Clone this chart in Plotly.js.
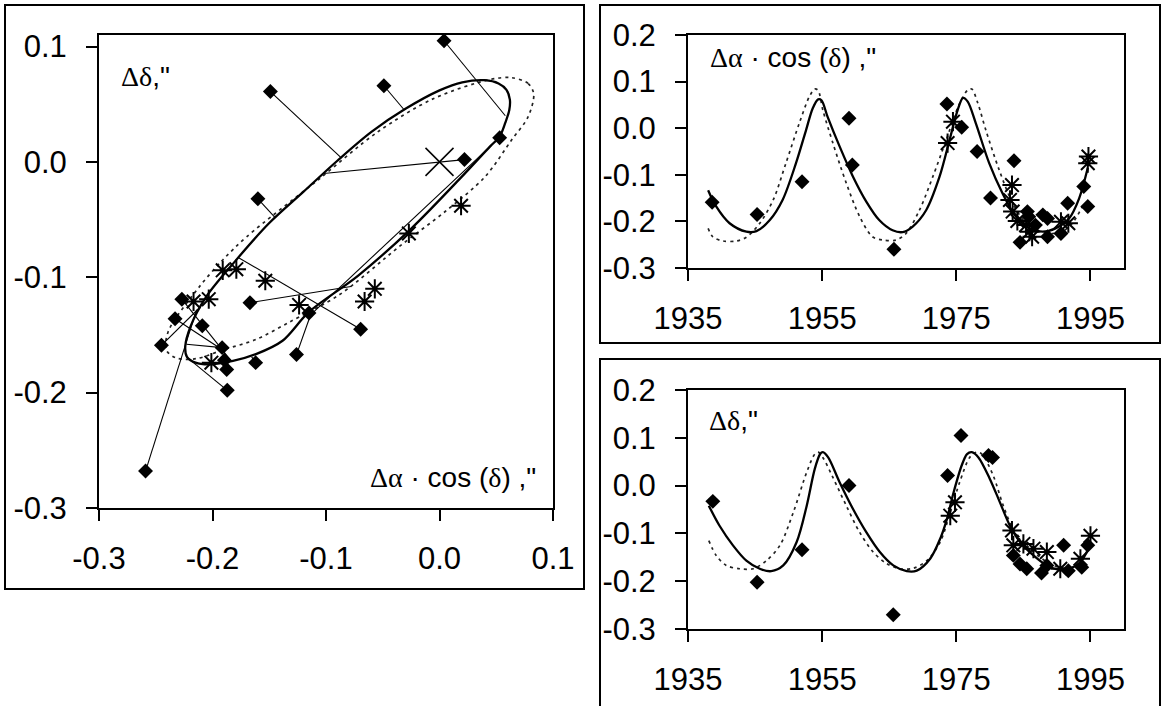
<!DOCTYPE html>
<html>
<head>
<meta charset="utf-8">
<script src="https://cdn.plot.ly/plotly-3.0.1.min.js"></script>
<style>html,body{margin:0;padding:0;background:#fff;}#chart{width:1165px;height:706px;}</style>
</head>
<body>
<div id="chart"></div>
<script>
// ---------- Left panel: apparent orbit (Δα·cos δ vs Δδ) ----------
const orbitSolidX = [0.062, 0.059, 0.052, 0.040, 0.020, 0.000, -0.030, -0.060, -0.090, -0.120, -0.150, -0.180, -0.2056, -0.2195, -0.2240, -0.2225, -0.215, -0.2027, -0.182, -0.1617, -0.1383, -0.115, -0.0716, -0.0251, 0.018, 0.0446, 0.053, 0.058, 0.0615, 0.062];
const orbitSolidY = [0.054, 0.0625, 0.068, 0.0708, 0.069, 0.062, 0.046, 0.026, 0.001, -0.026, -0.053, -0.086, -0.117, -0.143, -0.160, -0.169, -0.174, -0.1755, -0.1725, -0.1666, -0.155, -0.130, -0.0985, -0.058, -0.0145, 0.0135, 0.022, 0.034, 0.045, 0.054];
const orbitDotX = [0.083, 0.078, 0.0635, 0.045, -0.005, -0.055, -0.105, -0.170, -0.191, -0.2114, -0.239, -0.2407, -0.232, -0.214, -0.191, -0.162, -0.1325, -0.088, -0.035, 0.005, 0.040, 0.0635, 0.078, 0.083];
const orbitDotY = [0.059, 0.068, 0.073, 0.0715, 0.055, 0.0256, -0.014, -0.065, -0.085, -0.108, -0.147, -0.163, -0.170, -0.1705, -0.163, -0.154, -0.139, -0.115, -0.073, -0.043, -0.013, 0.019, 0.039, 0.059];

const obsDiamondX = [0.004, -0.049, -0.149, 0.053, 0.022, -0.160, -0.167, -0.227, -0.233, -0.209, -0.245, -0.1915, -0.1895, -0.1875, -0.162, -0.187, -0.126, -0.115, -0.0695, -0.259];
const obsDiamondY = [0.105, 0.066, 0.061, 0.021, 0.002, -0.032, -0.122, -0.119, -0.136, -0.142, -0.159, -0.161, -0.172, -0.180, -0.174, -0.198, -0.167, -0.131, -0.145, -0.268];
// computed (ephemeris) positions joined to each observation; null = no visible link
const fitX = [0.058, -0.031, -0.087, -0.112, -0.102, -0.145, -0.078, -0.184, -0.191, null, -0.211, -0.223, null, null, -0.1655, -0.223, -0.113, null, -0.177, -0.214];
const fitY = [0.040, 0.045, 0.004, -0.131, -0.010, -0.048, -0.108, -0.172, -0.163, null, -0.126, -0.158, null, null, -0.169, -0.169, -0.131, null, -0.083, -0.128];

const obsStarX = [0.019, -0.027, -0.191, -0.179, -0.1535, -0.057, -0.066, -0.1237, -0.2033, -0.2167, -0.201];
const obsStarY = [-0.038, -0.062, -0.094, -0.093, -0.103, -0.110, -0.121, -0.124, -0.119, -0.121, -0.174];
const primaryX = [0.0];
const primaryY = [0.0];

// ---------- Top-right: Δα·cos δ vs year ----------
const raSolidT = [1938.0, 1939.2, 1941.2, 1943.7, 1945.2, 1947.2, 1949.1, 1951.1, 1952.6, 1953.6, 1954.4, 1954.9, 1955.8, 1957.6, 1959.6, 1961.6, 1963.5, 1965.5, 1967.0, 1968.5, 1970.5, 1972.5, 1974.0, 1975.2, 1976.0, 1976.7, 1977.9, 1979.9, 1981.9, 1983.9, 1985.9, 1987.9, 1989.8, 1991.8, 1993.3, 1994.6];
const raSolidV = [-0.133, -0.168, -0.204, -0.222, -0.221, -0.197, -0.154, -0.075, -0.004, 0.043, 0.062, 0.060, 0.025, -0.039, -0.104, -0.158, -0.197, -0.219, -0.223, -0.211, -0.176, -0.104, -0.025, 0.039, 0.065, 0.057, 0.011, -0.075, -0.140, -0.190, -0.215, -0.222, -0.215, -0.194, -0.151, -0.085];
const raDotT = [1938.0, 1938.7, 1940.2, 1942.2, 1943.7, 1945.7, 1947.7, 1949.6, 1951.6, 1953.1, 1953.9, 1954.4, 1955.1, 1956.6, 1958.6, 1960.6, 1962.5, 1964.0, 1966.0, 1967.5, 1969.5, 1971.5, 1973.5, 1975.4, 1976.7, 1977.3, 1978.2, 1979.4, 1981.4, 1983.4, 1985.4, 1987.4, 1989.3, 1990.8, 1992.3, 1993.8];
const raDotV = [-0.215, -0.233, -0.242, -0.242, -0.234, -0.204, -0.154, -0.075, 0.011, 0.068, 0.084, 0.081, 0.039, -0.032, -0.118, -0.190, -0.233, -0.240, -0.240, -0.226, -0.176, -0.104, -0.025, 0.050, 0.082, 0.084, 0.054, -0.004, -0.090, -0.161, -0.204, -0.222, -0.226, -0.222, -0.204, -0.168];
const raDiamondT = [1938.6, 1945.3, 1952.0, 1959.0, 1959.5, 1965.7, 1973.6, 1975.8, 1978.1, 1980.1, 1983.6, 1984.5, 1985.6, 1985.8, 1986.8, 1987.9, 1988.6, 1988.6, 1990.6, 1991.6, 1994.0, 1994.6];
const raDiamondV = [-0.159, -0.185, -0.115, 0.0215, -0.079, -0.260, 0.052, 0.002, -0.050, -0.150, -0.070, -0.245, -0.179, -0.190, -0.208, -0.186, -0.194, -0.233, -0.226, -0.161, -0.125, -0.168];
const raStarT = [1973.7, 1974.5, 1983.3, 1983.0, 1983.4, 1984.1, 1985.4, 1985.9, 1986.3, 1990.6, 1991.7, 1994.7, 1994.6];
const raStarV = [-0.032, 0.014, -0.122, -0.154, -0.179, -0.199, -0.208, -0.222, -0.233, -0.201, -0.204, -0.061, -0.075];

// ---------- Bottom-right: Δδ vs year ----------
const decSolidT = [1938.1, 1939.7, 1941.7, 1943.7, 1945.7, 1947.4, 1949.2, 1951.2, 1952.7, 1953.9, 1954.7, 1955.1, 1955.9, 1957.6, 1959.6, 1961.6, 1963.6, 1965.6, 1967.6, 1969.1, 1971.1, 1972.6, 1973.6, 1974.6, 1975.8, 1976.6, 1977.3, 1978.3, 1980.0, 1981.5, 1983.0, 1984.5, 1986.5, 1988.5, 1990.5, 1992.0, 1993.5, 1994.7];
const decSolidV = [-0.042, -0.084, -0.125, -0.157, -0.174, -0.179, -0.167, -0.118, -0.042, 0.035, 0.066, 0.070, 0.059, 0.007, -0.049, -0.098, -0.139, -0.167, -0.179, -0.178, -0.153, -0.111, -0.070, -0.014, 0.042, 0.066, 0.070, 0.059, 0.014, -0.035, -0.084, -0.118, -0.146, -0.167, -0.176, -0.173, -0.160, -0.132];
const decDotT = [1938.1, 1939.2, 1940.7, 1942.7, 1944.7, 1946.7, 1948.7, 1950.7, 1952.7, 1953.9, 1954.4, 1955.1, 1956.6, 1958.6, 1960.6, 1962.6, 1964.6, 1966.6, 1968.6, 1970.6, 1972.6, 1974.1, 1975.5, 1977.0, 1978.0, 1978.8, 1980.5, 1982.0, 1983.5, 1985.5, 1987.5, 1989.5, 1991.5, 1993.0, 1994.2];
const decDotV = [-0.115, -0.146, -0.167, -0.174, -0.174, -0.157, -0.125, -0.056, 0.028, 0.066, 0.070, 0.059, 0.017, -0.042, -0.098, -0.139, -0.163, -0.174, -0.173, -0.157, -0.118, -0.056, 0.007, 0.059, 0.070, 0.066, 0.021, -0.042, -0.091, -0.125, -0.150, -0.167, -0.173, -0.167, -0.150];
const decDiamondT = [1938.7, 1945.3, 1952.0, 1959.0, 1965.6, 1973.7, 1975.7, 1979.8, 1980.4, 1983.5, 1984.5, 1985.5, 1987.7, 1988.5, 1991.0, 1991.7, 1993.7, 1994.6];
const decDiamondV = [-0.033, -0.202, -0.134, 0.0, -0.270, 0.021, 0.105, 0.063, 0.059, -0.146, -0.164, -0.174, -0.183, -0.167, -0.125, -0.178, -0.171, -0.125];
const decStarT = [1974.1, 1974.8, 1983.3, 1983.5, 1985.0, 1986.5, 1988.5, 1990.5, 1993.5, 1995.0];
const decStarV = [-0.063, -0.035, -0.094, -0.125, -0.122, -0.132, -0.139, -0.174, -0.153, -0.105];

// ---------- Tick labels ----------
const orbitTickVals = [-0.3, -0.2, -0.1, 0.0, 0.1];
const orbitTickText = ['-0.3', '-0.2', '-0.1', '0.0', '0.1'];
const yearTickVals = [1935, 1955, 1975, 1995];
const yearTickText = ['1935', '1955', '1975', '1995'];
const offsetTickVals = [-0.3, -0.2, -0.1, 0.0, 0.1, 0.2];
const offsetTickText = ['-0.3', '-0.2', '-0.1', '0.0', '0.1', '0.2'];

// ---------- Build traces ----------
const ocX = [], ocY = [];
for (let i = 0; i < obsDiamondX.length; i++) {
  if (fitX[i] === null) continue;
  ocX.push(obsDiamondX[i], fitX[i], null);
  ocY.push(obsDiamondY[i], fitY[i], null);
}

const solidLine = {color: '#000', width: 2.3, shape: 'spline', smoothing: 0.9};
const dotLine = {color: '#222', width: 1.7, dash: '3px,4px', shape: 'spline', smoothing: 0.9};
const diamond = {symbol: 'diamond', size: 11.5, color: '#000', line: {width: 0}};
const star = {symbol: 'asterisk-open', size: 16, color: '#000', line: {color: '#000', width: 2}};

const traces = [
  {x: orbitDotX, y: orbitDotY, mode: 'lines', line: dotLine, xaxis: 'x', yaxis: 'y'},
  {x: orbitSolidX, y: orbitSolidY, mode: 'lines', line: solidLine, xaxis: 'x', yaxis: 'y'},
  {x: ocX, y: ocY, mode: 'lines', line: {color: '#000', width: 1.1}, connectgaps: false, xaxis: 'x', yaxis: 'y'},
  {x: obsDiamondX, y: obsDiamondY, mode: 'markers', marker: diamond, xaxis: 'x', yaxis: 'y'},
  {x: obsStarX, y: obsStarY, mode: 'markers', marker: star, xaxis: 'x', yaxis: 'y'},
  {x: primaryX, y: primaryY, mode: 'markers', marker: {symbol: 'x-thin-open', size: 28, color: '#000', line: {color: '#000', width: 1.5}}, xaxis: 'x', yaxis: 'y'},

  {x: raDotT, y: raDotV, mode: 'lines', line: dotLine, xaxis: 'x2', yaxis: 'y2'},
  {x: raSolidT, y: raSolidV, mode: 'lines', line: solidLine, xaxis: 'x2', yaxis: 'y2'},
  {x: raDiamondT, y: raDiamondV, mode: 'markers', marker: diamond, xaxis: 'x2', yaxis: 'y2'},
  {x: raStarT, y: raStarV, mode: 'markers', marker: star, xaxis: 'x2', yaxis: 'y2'},

  {x: decDotT, y: decDotV, mode: 'lines', line: dotLine, xaxis: 'x3', yaxis: 'y3'},
  {x: decSolidT, y: decSolidV, mode: 'lines', line: solidLine, xaxis: 'x3', yaxis: 'y3'},
  {x: decDiamondT, y: decDiamondV, mode: 'markers', marker: diamond, xaxis: 'x3', yaxis: 'y3'},
  {x: decStarT, y: decStarV, mode: 'markers', marker: star, xaxis: 'x3', yaxis: 'y3'}
];

const tickFont = {family: 'Liberation Sans, Arial, sans-serif', size: 31, color: '#000'};
function axis(extra) {
  return Object.assign({
    showline: true, linecolor: '#000', linewidth: 2, mirror: true,
    ticks: 'outside', ticklen: 11, tickwidth: 2, tickcolor: '#000',
    showgrid: false, zeroline: false, tickfont: tickFont, fixedrange: true
  }, extra);
}

const serif = "font-family:'Liberation Serif','Times New Roman',serif";
const labelRA = '<span style="' + serif + '">Δα</span> · cos (<span style="' + serif + '">δ</span>) ,"';
const labelDec = '<span style="' + serif + '">Δδ</span>,"';
const annFont = {family: 'Liberation Sans, Arial, sans-serif', size: 28, color: '#000'};

const layout = {
  width: 1165, height: 706,
  margin: {l: 0, r: 0, t: 0, b: 0},
  paper_bgcolor: '#fff', plot_bgcolor: '#fff',
  showlegend: false,
  xaxis: axis({domain: [0.08498, 0.47468], range: [-0.3, 0.1], tickvals: orbitTickVals, ticktext: orbitTickText, ticklabelstandoff: 11, anchor: 'y'}),
  yaxis: axis({domain: [0.28045, 0.95042], range: [-0.3, 0.11], tickvals: orbitTickVals, ticktext: orbitTickText, ticklabelstandoff: 13, anchor: 'x'}),
  xaxis2: axis({domain: [0.59056, 0.96481], range: [1935, 2000], tickvals: yearTickVals, ticktext: yearTickText, ticklabelstandoff: 11, anchor: 'y2'}),
  yaxis2: axis({domain: [0.62040, 0.95042], range: [-0.3, 0.2], tickvals: offsetTickVals, ticktext: offsetTickText, ticklabelstandoff: 13, anchor: 'x2'}),
  xaxis3: axis({domain: [0.59056, 0.96481], range: [1935, 2000], tickvals: yearTickVals, ticktext: yearTickText, ticklabelstandoff: 11, anchor: 'y3'}),
  yaxis3: axis({domain: [0.10907, 0.44759], range: [-0.3, 0.2], tickvals: offsetTickVals, ticktext: offsetTickText, ticklabelstandoff: 13, anchor: 'x3'}),
  annotations: [
    {xref: 'x domain', yref: 'y domain', x: 0.045, y: 0.913, xanchor: 'left', yanchor: 'middle', text: labelDec, showarrow: false, font: annFont},
    {xref: 'x domain', yref: 'y domain', x: 0.968, y: 0.065, xanchor: 'right', yanchor: 'middle', text: labelRA, showarrow: false, font: annFont},
    {xref: 'x2 domain', yref: 'y2 domain', x: 0.045, y: 0.905, xanchor: 'left', yanchor: 'middle', text: labelRA, showarrow: false, font: annFont},
    {xref: 'x3 domain', yref: 'y3 domain', x: 0.044, y: 0.874, xanchor: 'left', yanchor: 'middle', text: labelDec, showarrow: false, font: annFont}
  ],
  shapes: [
    {type: 'rect', xref: 'paper', yref: 'paper', x0: 5/1165, x1: 584/1165, y0: 1 - 589/706, y1: 1 - 5/706, line: {color: '#000', width: 2}},
    {type: 'rect', xref: 'paper', yref: 'paper', x0: 600/1165, x1: 1160/1165, y0: 1 - 343/706, y1: 1 - 5/706, line: {color: '#000', width: 2}},
    {type: 'rect', xref: 'paper', yref: 'paper', x0: 600/1165, x1: 1160/1165, y0: -0.02, y1: 1 - 359/706, line: {color: '#000', width: 2}}
  ]
};

Plotly.newPlot('chart', traces, layout, {staticPlot: true, displayModeBar: false});
</script>
</body>
</html>
